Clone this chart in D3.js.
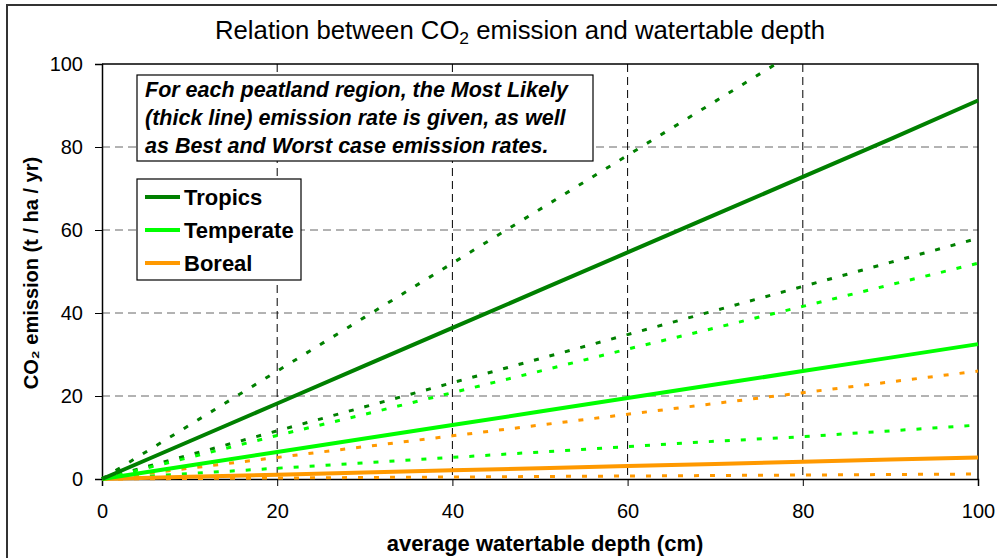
<!DOCTYPE html>
<html>
<head>
<meta charset="utf-8">
<script src="https://cdn.jsdelivr.net/npm/d3@7"></script>
<style>
  body { margin: 0; background: #fff; }
  svg { display: block; font-family: "Liberation Sans", Arial, sans-serif; }
</style>
</head>
<body>
<svg id="chart" width="997" height="558"></svg>
<script>
// watertable depth (cm)
const depths = [0, 10, 20, 30, 40, 50, 60, 70, 80, 90, 100]

// CO2 emission (t / ha / yr)
const tropicsLikely = [0, 9.1, 18.2, 27.3, 36.4, 45.5, 54.6, 63.7, 72.8, 81.9, 91.2]
const tropicsWorst = [0, 13, 26, 39, 52, 65, 78, 91, 104, 117, 130]
const tropicsBest = [0, 5.8, 11.6, 17.4, 23.2, 29, 34.8, 40.6, 46.4, 52.2, 58]
const temperateLikely = [0, 3.25, 6.5, 9.75, 13, 16.25, 19.5, 22.75, 26, 29.25, 32.5]
const temperateWorst = [0, 5.2, 10.5, 15.6, 20.8, 26, 31.3, 36.4, 41.6, 46.8, 52]
const temperateBest = [0, 1.3, 2.6, 3.9, 5.2, 6.5, 7.8, 9.1, 10.2, 11.6, 13]
const borealLikely = [0, 0.52, 1.04, 1.56, 2.08, 2.6, 3.12, 3.64, 4.16, 4.68, 5.2]
const borealWorst = [0, 2.6, 5.2, 7.8, 10.4, 13, 15.6, 18.2, 20.8, 23.4, 26]
const borealBest = [0, 0.12, 0.24, 0.36, 0.48, 0.6, 0.72, 0.84, 0.96, 1.08, 1.2]

const xTicks = [0, 20, 40, 60, 80, 100]
const yTicks = [0, 20, 40, 60, 80, 100]

const regions = ['Tropics', 'Temperate', 'Boreal']
const colors = { Tropics: '#008000', Temperate: '#00ff00', Boreal: '#ff9900' }

const series = [
  { region: 'Tropics', kind: 'worst', values: tropicsWorst },
  { region: 'Tropics', kind: 'best', values: tropicsBest },
  { region: 'Temperate', kind: 'worst', values: temperateWorst },
  { region: 'Temperate', kind: 'best', values: temperateBest },
  { region: 'Boreal', kind: 'worst', values: borealWorst },
  { region: 'Boreal', kind: 'best', values: borealBest },
  { region: 'Boreal', kind: 'likely', values: borealLikely },
  { region: 'Temperate', kind: 'likely', values: temperateLikely },
  { region: 'Tropics', kind: 'likely', values: tropicsLikely }
]

const note = [
  'For each peatland region, the Most Likely',
  '(thick line) emission rate is given, as well',
  'as Best and Worst case emission rates.'
]

const MARGINS = { top: 64, right: 19, bottom: 79, left: 102 }

const svg = d3.select('#chart')
const width = +svg.attr('width') - MARGINS.left - MARGINS.right
const height = +svg.attr('height') - MARGINS.top - MARGINS.bottom

// outer frame
svg.append('rect')
  .attr('x', 7).attr('y', 5)
  .attr('width', 1000).attr('height', 600)
  .attr('fill', '#fff')
  .attr('stroke', '#333')
  .attr('stroke-width', 2)

const scaleX = d3.scaleLinear().domain([0, 100]).range([0, width])
const scaleY = d3.scaleLinear().domain([0, 100]).range([height, 0])

const g = svg.append('g')
  .attr('transform', 'translate(' + MARGINS.left + ',' + MARGINS.top + ')')

// grid
g.selectAll('.hgrid')
  .data(yTicks.filter(d => d > 0 && d < 100))
  .enter().append('line')
  .attr('x1', 0).attr('x2', width)
  .attr('y1', d => scaleY(d)).attr('y2', d => scaleY(d))
  .attr('stroke', '#666')
  .attr('stroke-dasharray', '8,5')

g.selectAll('.vgrid')
  .data(xTicks.filter(d => d > 0 && d < 100))
  .enter().append('line')
  .attr('y1', 0).attr('y2', height)
  .attr('x1', d => scaleX(d)).attr('x2', d => scaleX(d))
  .attr('stroke', '#000')
  .attr('stroke-dasharray', '8,5')

// plot frame top/right
g.append('path')
  .attr('d', 'M0,0H' + width + 'V' + height)
  .attr('fill', 'none')
  .attr('stroke', '#000')
  .attr('stroke-width', 1.5)

// axes
const xAxis = g.append('g')
  .attr('transform', 'translate(0,' + height + ')')
  .call(d3.axisBottom(scaleX).tickValues(xTicks).tickSize(7).tickPadding(14))
const yAxis = g.append('g')
  .call(d3.axisLeft(scaleY).tickValues(yTicks).tickSize(7).tickPadding(12))

;[xAxis, yAxis].forEach(a => {
  a.select('.domain').attr('stroke', '#000').attr('stroke-width', 1.5)
  a.selectAll('.tick line').attr('stroke', '#000')
  a.selectAll('.tick text')
    .attr('fill', '#000')
    .style('font-family', '"Liberation Sans", Arial, sans-serif')
    .style('font-size', '20px')
})
xAxis.selectAll('.tick text').attr('dy', '0.9em')

// clip for lines running past 100
svg.append('defs').append('clipPath').attr('id', 'plot-clip')
  .append('rect')
  .attr('x', -3).attr('y', 0)
  .attr('width', width + 6).attr('height', height + 3)

const line = d3.line()
  .x((d, i) => scaleX(depths[i]))
  .y(d => scaleY(d))

g.append('g')
  .attr('clip-path', 'url(#plot-clip)')
  .selectAll('path')
  .data(series)
  .enter().append('path')
  .attr('d', d => line(d.values))
  .attr('fill', 'none')
  .attr('stroke', d => colors[d.region])
  .attr('stroke-width', d => d.kind === 'likely' ? 4 : 3)
  .attr('stroke-dasharray', d => d.kind === 'likely' ? null : '5,11')

// note box
const noteBox = svg.append('g').attr('transform', 'translate(137,75)')
noteBox.append('rect')
  .attr('width', 456).attr('height', 86)
  .attr('fill', '#fff').attr('stroke', '#000').attr('stroke-width', 1.2)
noteBox.selectAll('text')
  .data(note)
  .enter().append('text')
  .attr('x', 8)
  .attr('y', (d, i) => 22 + i * 28)
  .attr('font-size', '21.5px')
  .attr('font-weight', 'bold')
  .attr('font-style', 'italic')
  .text(d => d)

// legend
const legend = svg.append('g').attr('transform', 'translate(137,179)')
legend.append('rect')
  .attr('width', 164).attr('height', 101)
  .attr('fill', '#fff').attr('stroke', '#000').attr('stroke-width', 1.2)
const item = legend.selectAll('.item')
  .data(regions)
  .enter().append('g')
  .attr('transform', (d, i) => 'translate(0,' + (18 + i * 33) + ')')
item.append('line')
  .attr('x1', 8).attr('x2', 43)
  .attr('stroke', d => colors[d])
  .attr('stroke-width', 4)
item.append('text')
  .attr('x', 47)
  .attr('dy', '0.36em')
  .attr('font-size', '22px')
  .attr('font-weight', 'bold')
  .text(d => d)

// title
const title = svg.append('text')
  .attr('x', 520).attr('y', 39)
  .attr('text-anchor', 'middle')
  .attr('font-size', '25px')
  .attr('textLength', 610)
  .attr('lengthAdjust', 'spacingAndGlyphs')
title.append('tspan').text('Relation between CO')
title.append('tspan').attr('font-size', '17px').attr('dy', 5).text('2')
title.append('tspan').attr('dy', -5).text(' emission and watertable depth')

// axis titles
svg.append('text')
  .attr('x', 545).attr('y', 551)
  .attr('text-anchor', 'middle')
  .attr('font-size', '22px')
  .attr('font-weight', 'bold')
  .text('average watertable depth (cm)')

svg.append('text')
  .attr('transform', 'translate(38,273) rotate(-90)')
  .attr('text-anchor', 'middle')
  .attr('font-size', '20px')
  .attr('font-weight', 'bold')
  .text('CO₂ emission (t / ha / yr)')
</script>
</body>
</html>
